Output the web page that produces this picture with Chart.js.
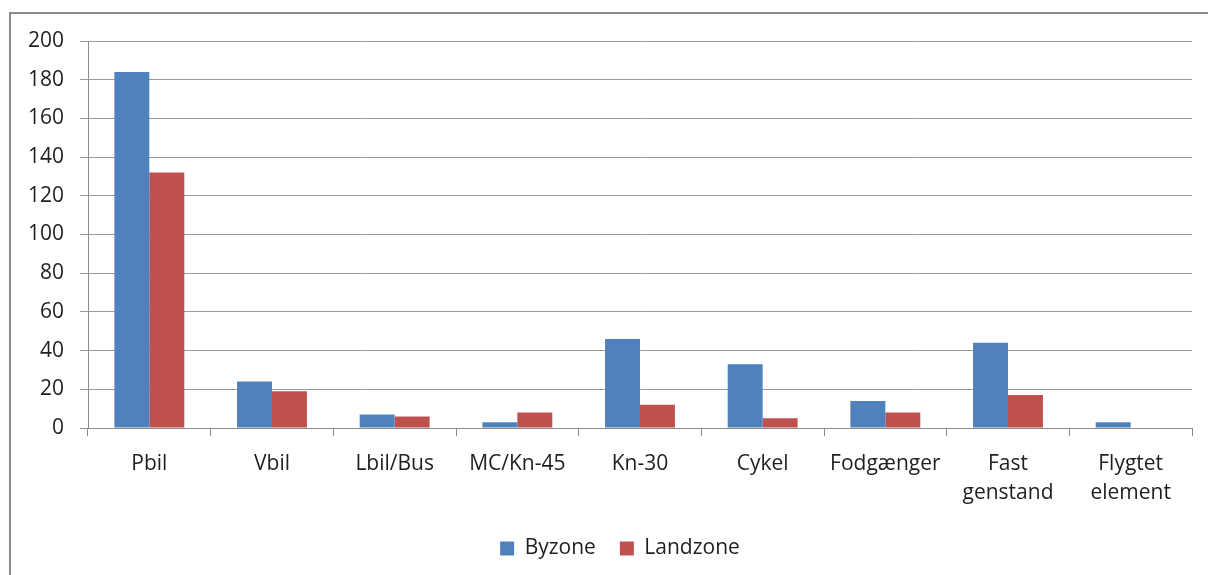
<!DOCTYPE html>
<html>
<head>
<meta charset="utf-8">
<script src="https://cdn.jsdelivr.net/npm/chart.js@4.4.1/dist/chart.umd.min.js"></script>
<style>
    html, body { margin: 0; padding: 0; background: #fff; overflow: hidden; }
    #wrap { position: relative; width: 1208px; height: 575px; }
    #frame { position: absolute; left: 9px; top: 12px; width: 1300px; height: 700px; border: 2px solid #8a8a8a; box-sizing: border-box; }
    #graf { position: absolute; left: 0; top: 0; }
</style>
</head>
<body>
<div id="wrap">
    <div id="frame"></div>
    <canvas id="graf" width="1208" height="575"></canvas>
</div>
<script>
const kategorier = ['Pbil', 'Vbil', 'Lbil/Bus', 'MC/Kn-45', 'Kn-30', 'Cykel', 'Fodgænger', ['Fast', 'genstand'], ['Flygtet', 'element']];
const byzone = [184, 24, 7, 3, 46, 33, 14, 44, 3];
const landzone = [132, 19, 6, 8, 12, 5, 8, 17, 0];

// flytter legenden lidt til højre, som i originalen
const legendeForskydning = {
    id: 'legendeForskydning',
    afterLayout(chart) {
        if (chart.legend) chart.legend.left += 48;
    }
};

document.addEventListener('DOMContentLoaded', function () {
    Chart.defaults.font.family = '"Open Sans", Lato, sans-serif';
    Chart.defaults.font.size = 21;
    Chart.defaults.color = '#1f1f1f';

    const canvas = document.getElementById('graf');
    new Chart(canvas, {
        type: 'bar',
        data: {
            labels: kategorier,
            datasets: [
                { label: 'Byzone', data: byzone, backgroundColor: '#4F81BD' },
                { label: 'Landzone', data: landzone, backgroundColor: '#C0504D' }
            ]
        },
        plugins: [legendeForskydning],
        options: {
            responsive: false,
            animation: false,
            datasets: {
                bar: { categoryPercentage: 0.57, barPercentage: 1 }
            },
            layout: { padding: { left: 0, right: 16, top: 41, bottom: 6 } },
            scales: {
                x: {
                    afterFit: (scale) => { scale.height = 86; },
                    grid: { drawOnChartArea: false, drawTicks: true, tickLength: 8, color: '#8c8c8c' },
                    border: { display: true, color: '#8c8c8c' },
                    ticks: { padding: 14, maxRotation: 0, font: { lineHeight: 1.38 } }
                },
                y: {
                    min: 0,
                    max: 200,
                    afterFit: (scale) => { scale.width = 88; },
                    grid: { color: '#9a9a9a', tickLength: 8 },
                    border: { display: true, color: '#8c8c8c' },
                    ticks: { stepSize: 20, padding: 16 }
                }
            },
            plugins: {
                legend: {
                    position: 'bottom',
                    labels: { boxWidth: 14, boxHeight: 14, padding: 24 }
                },
                tooltip: { enabled: false }
            }
        }
    });
});
</script>
</body>
</html>
